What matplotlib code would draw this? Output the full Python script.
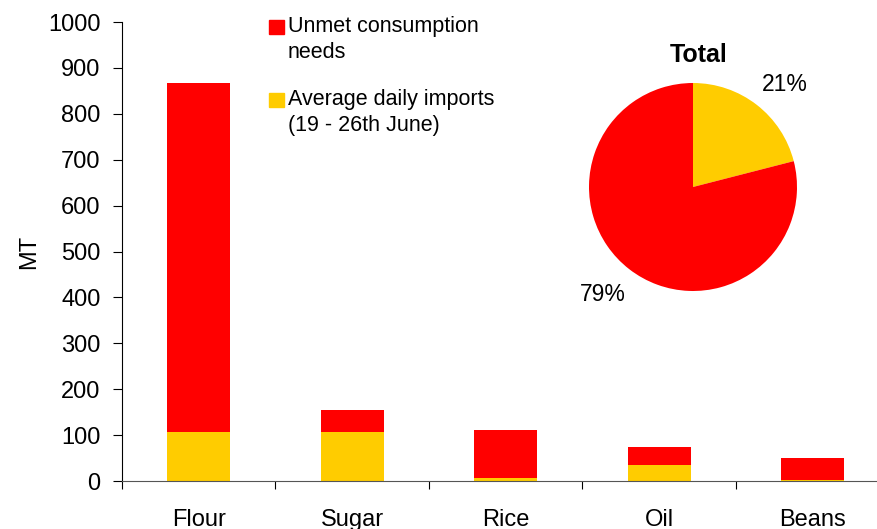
import numpy as np
import matplotlib
matplotlib.use('Agg')
from matplotlib import pyplot as plt
from matplotlib.patches import Rectangle

plt.rcParams['font.family'] = ['Liberation Sans', 'DejaVu Sans']

categories = ['Flour', 'Sugar', 'Rice', 'Oil', 'Beans']
imports = [107, 107, 6, 34, 2]
unmet = [760, 48, 105, 41, 48]
pie_labels = ['Average daily imports', 'Unmet consumption needs']
pie_share = [21, 79]

red = '#FF0000'
yellow = '#FFCC00'

W, H = 878, 529
fig = plt.figure(figsize=(W / 100, H / 100), dpi=100)

# main axes in pixel terms: left 122, zero line at 481, 1000 at 22
ax = fig.add_axes([122 / W, (H - 481) / H, 767.5 / W, 459 / H])
x = np.arange(len(categories))
ax.bar(x, imports, width=0.41, color=yellow)
ax.bar(x, unmet, width=0.41, bottom=imports, color=red)
ax.set_xlim(-0.5, 4.5)
ax.set_ylim(0, 1000)
ax.set_yticks(np.arange(0, 1001, 100))
ax.set_xticks(x)
ax.set_xticklabels(categories)
ax.set_xticks(np.arange(-0.5, 5, 1), minor=True)
ax.tick_params(axis='x', which='major', length=0, pad=20, labelsize=17)
ax.tick_params(axis='x', which='minor', length=6, direction='out', width=0.8)
ax.tick_params(axis='y', length=6.5, pad=9, labelsize=17, width=0.8)
for s in ['top', 'right']:
    ax.spines[s].set_visible(False)
ax.spines['left'].set_linewidth(0.8)
ax.spines['bottom'].set_linewidth(0.8)
ax.spines['bottom'].set_color('#555555')
ax.set_ylabel('MT', fontsize=17, labelpad=6)

# legend drawn by hand, squares aligned with first line
fig.patches.append(Rectangle((269 / W, (H - 34) / H), 15 / W, 14 / H,
                             transform=fig.transFigure, color=red))
fig.patches.append(Rectangle((269 / W, (H - 107) / H), 15 / W, 14 / H,
                             transform=fig.transFigure, color=yellow))
legend_lines = [('Unmet consumption', 32), ('needs', 58),
                ('Average daily imports', 105), ('(19 - 26th June)', 131)]
for txt, yb in legend_lines:
    fig.text(288 / W, (H - yb) / H, txt, fontsize=15.5, va='baseline', ha='left')

# pie
r = 104
cx, cy = 693, 187
pax = fig.add_axes([(cx - r) / W, (H - cy - r) / H, 2 * r / W, 2 * r / H])
wedges, texts, autotexts = pax.pie(pie_share, colors=[yellow, red], startangle=90,
                                   counterclock=False, autopct='%.0f%%',
                                   pctdistance=1.34, radius=1,
                                   textprops={'fontsize': 16.5})
autotexts[0].set_position((0.885, 0.99))
autotexts[1].set_position((-0.865, -1.03))
pax.set_xlim(-1, 1)
pax.set_ylim(-1, 1)
pax.set_aspect('equal')
fig.text(699 / W, (H - 55) / H, 'Total', fontsize=18, fontweight='bold',
         ha='center', va='center')

fig.savefig('out.png', dpi=100)
